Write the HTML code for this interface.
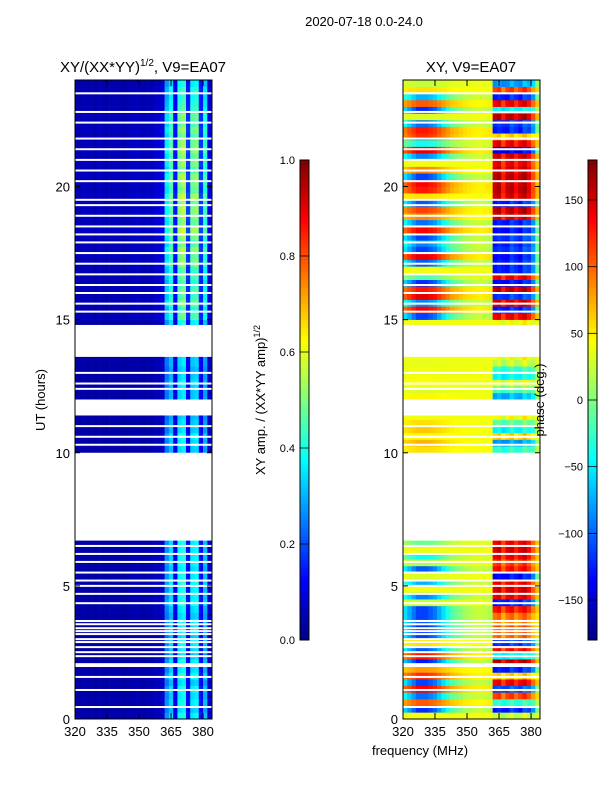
<!DOCTYPE html>
<html><head><meta charset="utf-8"><style>
body{margin:0;background:#fff;width:600px;height:800px;overflow:hidden}
svg{font-family:"Liberation Sans","DejaVu Sans",sans-serif}
</style></head><body>
<svg id="fig" width="600" height="800" xmlns="http://www.w3.org/2000/svg">
<text x="364" y="26" font-size="13" text-anchor="middle">2020-07-18 0.0-24.0</text>
<text x="143" y="72" font-size="15" text-anchor="middle">XY/(XX*YY)<tspan font-size="10" dy="-6">1/2</tspan><tspan dy="6">, V9=EA07</tspan></text>
<text x="471" y="72" font-size="15" text-anchor="middle">XY, V9=EA07</text>
<text transform="translate(45,400) rotate(-90)" font-size="13" text-anchor="middle">UT (hours)</text>
<text transform="translate(265,400) rotate(-90)" font-size="13" text-anchor="middle">XY amp. / (XX*YY amp)<tspan font-size="9" dy="-5">1/2</tspan></text>
<text x="420" y="755" font-size="13" text-anchor="middle">frequency (MHz)</text>
<g id="left"></g><g id="right"></g><g id="cb"></g>
<text transform="translate(544,400) rotate(-90)" font-size="13" text-anchor="middle">phase (deg.)</text>
</svg>
<script>
const NS="http://www.w3.org/2000/svg";
const hourTicks=[0,5,10,15,20];
const freqTicks=[320,335,350,365,380];
const ampTicks=[0.0,0.2,0.4,0.6,0.8,1.0];
const phaseTicks=[-150,-100,-50,0,50,100,150];
const gaps=[[6.7,10.0],[11.4,12.0],[13.6,14.8]];
const gapLines=[0.45,1.09,1.58,1.99,2.06,2.36,2.51,2.7,2.89,3.0,3.19,3.3,3.41,3.56,3.68,4.35,4.7,5.0,5.2,5.5,5.9,6.2,6.5,10.3,10.6,11.0,12.4,12.6,13.0,15.3,15.6,16.0,16.3,16.7,17.1,17.5,17.9,18.2,18.5,18.9,19.3,19.5,20.2,20.6,21.0,21.4,21.8,22.4,22.8,23.5];
const ampCol=[0.04,0.05,0.05,0.05,0.04,0.05,0.05,0.04,0.05,0.05,0.05,0.04,0.05,0.05,0.06,0.05,0.05,0.05,0.06,0.07,0.08,0.3,0.38,0.12,0.42,0.45,0.15,0.4,0.42,0.15,0.35,0.08];
const ampRow=[0.9,0.8,0.9,0.85,0.9,0.8,0.95,0.85,0.9,0.8,0.85,0.9,0.8,0.85,0.9,0.8,0.85,0.95,0.9,0.9,0.95,0.9,0.85,0.9,0.9,0.9,0.9,0.9,0.9,0.9,0.9,0.9,0.9,0.9,0.9,0.9,0.9,0.9,0.9,0.9,0.8,0.85,0.9,0.8,0.8,0.75,0.8,0.85,0.8,0.8,0.85,0.8,0.75,0.8,0.8,0.8,0.9,0.9,0.9,0.9,1.1,1.0,1.15,1.05,1.1,1.0,1.1,1.05,1.2,1.15,1.25,1.1,1.2,1.3,1.15,1.2,1.25,1.2,1.3,1.15,1.2,1.25,1.1,1.2,1.15,1.25,1.2,1.1,1.2,1.1,1.15,1.05,1.0,0.95,1.0,0.9];
const phaseLow=[40,-160,120,-130,160,-150,140,90,-170,150,-140,60,-150,-160,-140,-150,-150,20,-120,40,-100,30,-140,10,-60,40,-20,40,40,40,40,40,40,40,40,40,40,40,40,40,60,80,50,70,60,40,40,40,50,30,45,40,40,35,40,40,40,40,40,40,-150,160,-120,170,150,-160,-30,40,-140,170,-150,-120,-150,160,-130,100,130,-140,60,150,160,-150,100,40,-120,170,-60,140,150,-130,30,-160,120,-100,60,20];
const phaseHigh=[20,-150,-40,120,-130,150,60,-150,170,-60,140,-140,100,110,90,100,140,-150,150,160,150,-160,140,120,150,160,150,150,40,40,40,40,40,40,40,40,40,40,40,40,-40,-100,60,-60,-20,40,40,40,-90,-30,30,-60,-40,20,40,40,40,40,40,40,150,-150,160,-140,170,-160,150,-150,-150,-160,-140,-150,-140,-160,-150,160,170,-150,160,170,165,170,160,150,160,-170,150,60,-150,-140,170,-60,150,-150,120,-100];
const lowW=[0.5,0.6,0.7,0.8,0.8,0.8,0.75,0.7,0.6,0.5,0.4,0.3,0.25,0.2,0.15,0.12,0.1,0.08,0.08,0.1,0.12];
const hiW=[0.9,0.9,0.8,0.9,0.85,0.8,0.9,0.85,0.8,0.6,0.25];
const hiOff=[0,10,-20,0,15,-10,0,20,0,-15,0];

const Y0=719,PXH=(719-80)/24;
const yS=h=>Y0-h*PXH;
const PXF=137/64.2;
const xS=(x0,f)=>x0+(f-320)*PXF;
function jet(x){x=Math.max(0,Math.min(1,x));const c=v=>Math.round(255*Math.max(0,Math.min(1,v)));
return `rgb(${c(1.5-Math.abs(4*x-3))},${c(1.5-Math.abs(4*x-2))},${c(1.5-Math.abs(4*x-1))})`;}
function wrap(p){while(p>180)p-=360;while(p<-180)p+=360;return p;}
function mk(tag,attrs,parent){const e=document.createElementNS(NS,tag);for(const k in attrs)e.setAttribute(k,attrs[k]);parent.appendChild(e);return e;}

function panel(gid,x0,isPhase){
  const g=document.getElementById(gid);
  const nr=phaseLow.length,dh=24/nr;
  for(let r=0;r<nr;r++){
    for(let c=0;c<ampCol.length;c++){
      let v;
      if(isPhase){
        if(c<lowW.length){v=wrap(40+lowW[c]*(phaseLow[r]-40));}
        else{const k=c-lowW.length;v=wrap(40+hiW[k]*(phaseHigh[r]+hiOff[k]-40));}
        v=(v+180)/360;
      } else v=ampCol[c]*ampRow[r];
      const f=320+c*2;
      const cell=mk('rect',{x:xS(x0,f).toFixed(2),y:yS((r+1)*dh).toFixed(2),width:(2*PXF+0.3).toFixed(2),height:(dh*PXH+0.3).toFixed(2),fill:jet(v)},g);
      
      
    }
  }
  gaps.forEach(gp=>{const e=mk('rect',{x:x0,y:yS(gp[1]),width:137,height:(gp[1]-gp[0])*PXH,fill:'#fff'},g);
    
    });
  gapLines.forEach(h=>{const e=mk('rect',{x:x0,y:yS(h)-1,width:137,height:2,fill:'#fff'},g);
    
    });
  const fr=mk('rect',{x:x0,y:80,width:137,height:639,fill:'none',stroke:'#000','stroke-width':1},g);
  
  
  hourTicks.forEach(h=>{const y=yS(h);
    mk('line',{x1:x0,x2:x0+5,y1:y,y2:y,stroke:'#000'},g);
    mk('line',{x1:x0+137,x2:x0+132,y1:y,y2:y,stroke:'#000'},g);
    const t=mk('text',{x:x0-5,y:y+5,'font-size':13,'text-anchor':'end'},g);t.textContent=h;
    
    });
  freqTicks.forEach(f=>{const x=xS(x0,f);
    mk('line',{x1:x,x2:x,y1:719,y2:713,stroke:'#000'},g);
    mk('line',{x1:x,x2:x,y1:80,y2:86,stroke:'#000'},g);
    const t=mk('text',{x:x,y:736,'font-size':13,'text-anchor':'middle'},g);t.textContent=f;
    
    });
}
panel('left',75,false);
panel('right',403,true);

function colorbar(x,vmin,vmax,ticks,fmt){
  const g=document.getElementById('cb');const top=160,bot=640,n=120;
  for(let i=0;i<n;i++){const e=mk('rect',{x:x,y:bot-(i+1)*(bot-top)/n,width:9,height:(bot-top)/n+0.5,fill:jet((i+0.5)/n)},g);
    
    }
  const fr=mk('rect',{x:x,y:top,width:9,height:bot-top,fill:'none',stroke:'#000'},g);
  
  
  ticks.forEach(v=>{const y=bot-(v-vmin)/(vmax-vmin)*(bot-top);
    mk('line',{x1:x,x2:x+9,y1:y,y2:y,stroke:'#000','stroke-width':0.8},g);
    const t=mk('text',{x:x-5,y:y+4,'font-size':11,'text-anchor':'end'},g);t.textContent=fmt(v);
    
    });
}
colorbar(300,0,1,ampTicks,v=>v.toFixed(1));
colorbar(588,-180,180,phaseTicks,v=>v<0?'\u2212'+(-v):String(v));
</script>
</body></html>
